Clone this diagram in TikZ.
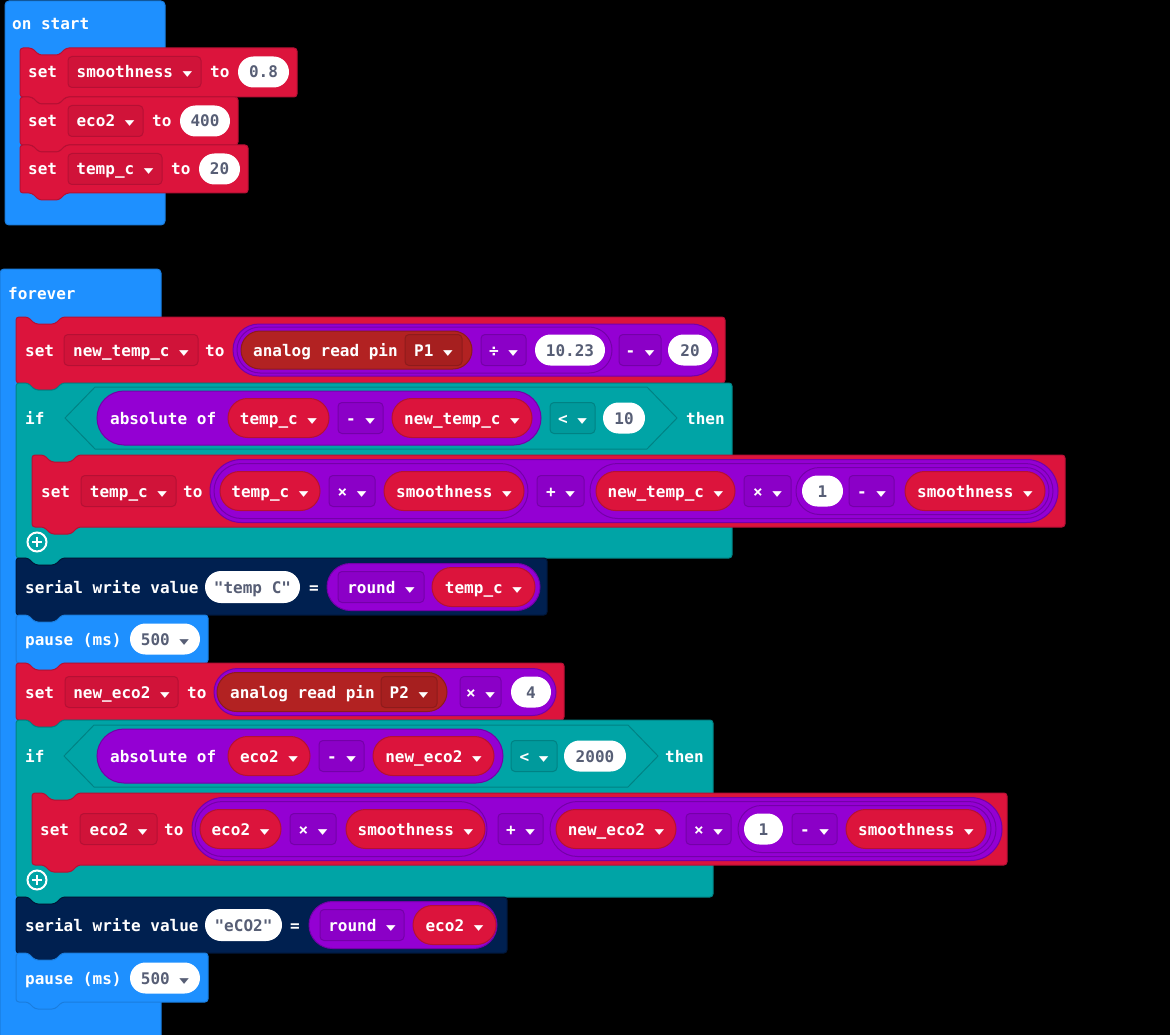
\documentclass[tikz,border=0pt]{standalone}
\usepackage{fontspec}
\setmonofont{DejaVu Sans Mono}
\newfontfamily\symfont{DejaVu Sans}
\usetikzlibrary{shapes.misc}
\definecolor{mcblue}{HTML}{1E90FF}
\definecolor{mcblueB}{HTML}{1A7DDE}
\definecolor{mcred}{HTML}{DC143C}
\definecolor{mcredB}{HTML}{B51034}
\definecolor{mcredF}{HTML}{D01339}
\definecolor{mcpin}{HTML}{B22222}
\definecolor{mcpinB}{HTML}{8E1B1B}
\definecolor{mcpinF}{HTML}{A61F1F}
\definecolor{mcpurple}{HTML}{9400D3}
\definecolor{mcpurpleB}{HTML}{7400A8}
\definecolor{mcpurpleF}{HTML}{8B00C7}
\definecolor{mcteal}{HTML}{00A4A6}
\definecolor{mctealB}{HTML}{008284}
\definecolor{mctealF}{HTML}{009A9C}
\definecolor{mcnavy}{HTML}{002050}
\definecolor{mcnavyB}{HTML}{001638}
\definecolor{mctext}{HTML}{575E75}
\newcommand\dd{~{\symfont\raisebox{1pt}{\scalebox{1.25}[0.75]{\fontsize{10}{10}\selectfont ▼}}}}
\newcommand\mcblock[5]{\filldraw[#1, rounded corners=3pt] (#2,#3) -- ({#2+12},#3) -- ({#2+19},{#3+7}) -- ({#2+39},{#3+7}) -- ({#2+46},#3) -- ({#2+#4},#3) -- ({#2+#4},{#3+#5}) -- ({#2+46},{#3+#5}) -- ({#2+39},{#3+#5+7}) -- ({#2+19},{#3+#5+7}) -- ({#2+12},{#3+#5}) -- (#2,{#3+#5}) -- cycle;}
\tikzset{
  blueblk/.style={fill=mcblue, draw=mcblueB, line width=1pt},
  redblk/.style={fill=mcred, draw=mcredB, line width=1pt},
  tealblk/.style={fill=mcteal, draw=mctealB, line width=1pt},
  navyblk/.style={fill=mcnavy, draw=mcnavyB, line width=1pt},
  hexa/.style={fill=mcteal, draw=mctealB, line width=1pt},
  lbl/.style={inner sep=0pt, text height=13pt, text depth=1pt, text=white, anchor=west},
  fld/.style={rectangle, rounded corners=4pt, inner sep=0pt, text height=13pt, text depth=1pt, text=white, minimum height=31pt, line width=1pt},
  redfld/.style={fld, fill=mcredF, draw=mcredB},
  purfld/.style={fld, fill=mcpurpleF, draw=mcpurpleB},
  tealfld/.style={fld, fill=mctealF, draw=mctealB},
  pinfld/.style={fld, fill=mcpinF, draw=mcpinB},
  pill/.style={rounded rectangle, inner sep=0pt, text height=13pt, text depth=1pt, line width=1pt},
  numpill/.style={pill, fill=white, text=mctext, minimum height=31pt},
  varpill/.style={pill, fill=mcred, draw=mcredB, text=white, minimum height=39pt},
  mathpill/.style={pill, fill=mcpurple, draw=mcpurpleB},
  pinpill/.style={pill, fill=mcpin, draw=mcpinB},
  plusicon/.style={circle, draw=white, line width=2pt, minimum size=19pt, inner sep=0pt}
}
\begin{document}
\begin{tikzpicture}[x=1pt, y=-1pt, font=\ttfamily\bfseries\fontsize{16}{19}\selectfont]
\useasboundingbox (0,0) rectangle (1170,1035);
\fill[black] (0,0) rectangle (1170,1035);
% on start
\filldraw[blueblk, rounded corners=4pt] (5,1) rectangle (165,225);
\node[lbl] (onstart) at (12,24) {on start};
\mcblock{redblk}{20}{48}{277}{49}
\node[lbl] (set1) at (28,72) {set};
\node[redfld, minimum width=133pt] (var1) at (134.5,72) {smoothness\dd};
\node[lbl] (to1) at (210,72) {to};
\node[numpill, minimum width=51pt] (num1) at (263.5,72) {0.8};
\mcblock{redblk}{20}{97}{218}{48}
\node[lbl] (set2) at (28,121) {set};
\node[redfld, minimum width=75pt] (var2) at (105.5,121) {eco2\dd};
\node[lbl] (to2) at (152,121) {to};
\node[numpill, minimum width=50pt] (num2) at (205,121) {400};
\mcblock{redblk}{20}{145}{228}{48}
\node[lbl] (set3) at (28,169) {set};
\node[redfld, minimum width=94pt] (var3) at (115,169) {temp\_c\dd};
\node[lbl] (to3) at (171,169) {to};
\node[numpill, minimum width=41pt] (num3) at (219.5,169) {20};
% forever
\filldraw[blueblk] (0,1036) [rounded corners=4pt] -- (0,269) -- (161,269) [sharp corners] -- (161,1036) -- cycle;
\node[lbl] (forever) at (8,293) {forever};
\mcblock{redblk}{16}{317}{709}{66}
\node[lbl] (setA) at (25,350) {set};
\node[redfld, minimum width=134pt] (varA) at (131,350) {new\_temp\_c\dd};
\node[lbl] (toA) at (205,350) {to};
\node[mathpill, minimum width=485pt, minimum height=52pt] (subA) at (475.5,350) {};
\node[mathpill, minimum width=375pt, minimum height=46pt] (divA) at (424.5,350) {};
\node[pinpill, minimum width=231pt, minimum height=38pt] (pinA) at (356.5,350) {};
\node[lbl] (readA) at (253,350) {analog read pin};
\node[pinfld, minimum width=57pt] (P1) at (433.5,350) {P1\dd};
\node[purfld, minimum width=45pt] (opdivA) at (503.5,350) {÷\dd};
\node[numpill, minimum width=70pt] (numA1) at (570,350) {10.23};
\node[purfld, minimum width=42pt] (opsubA) at (640,350) {-\dd};
\node[numpill, minimum width=44pt] (numA2) at (690,350) {20};
% if temp
\mcblock{tealblk}{16}{383}{716}{175}
\node[lbl] (ifB) at (25,418) {if};
\filldraw[hexa] (65,418) -- (95,387) -- (647,387) -- (677,418) -- (647,449) -- (95,449) -- cycle;
\node[mathpill, minimum width=444pt, minimum height=54pt] (absB) at (319,418) {};
\node[lbl] (absofB) at (110,418) {absolute of};
\node[varpill, minimum width=101pt] (tcB) at (278.5,418) {temp\_c\dd};
\node[purfld, minimum width=45pt] (opsubB) at (360.5,418) {-\dd};
\node[varpill, minimum width=140pt] (ntcB) at (462,418) {new\_temp\_c\dd};
\node[tealfld, minimum width=45pt] (ltB) at (572.5,418) {<\dd};
\node[numpill, minimum width=42pt] (numB) at (624,418) {10};
\node[lbl] (thenB) at (686,418) {then};
\mcblock{redblk}{32}{455}{1033}{72}
\node[lbl] (setC) at (41,491) {set};
\node[redfld, minimum width=95pt] (varC) at (128.5,491) {temp\_c\dd};
\node[lbl] (toC) at (183,491) {to};
\node[mathpill, minimum width=848pt, minimum height=63pt] (addC) at (634,491) {};
\node[mathpill, minimum width=314pt, minimum height=55pt] (mulC1) at (371,491) {};
\node[varpill, minimum width=100pt] (tcC) at (270,491) {temp\_c\dd};
\node[purfld, minimum width=46pt] (opmulC1) at (352,491) {×\dd};
\node[varpill, minimum width=140pt] (smC1) at (454,491) {smoothness\dd};
\node[purfld, minimum width=47pt] (opaddC) at (560.5,491) {+\dd};
\node[mathpill, minimum width=463pt, minimum height=55pt] (mulC2) at (821.5,491) {};
\node[varpill, minimum width=139pt] (ntcC) at (665.5,491) {new\_temp\_c\dd};
\node[purfld, minimum width=47pt] (opmulC2) at (767.5,491) {×\dd};
\node[mathpill, minimum width=253pt, minimum height=47pt] (subC) at (922.5,491) {};
\node[numpill, minimum width=41pt] (oneC) at (822.5,491) {1};
\node[purfld, minimum width=45pt] (opsubC) at (871.5,491) {-\dd};
\node[varpill, minimum width=140pt] (smC2) at (975,491) {smoothness\dd};
\node[plusicon] (plusB) at (37,542) {};
\draw[white, line width=2.5pt] (plusB.center) +(-5,0) -- +(5,0) (plusB.center) +(0,-5) -- +(0,5);
\mcblock{navyblk}{16}{558}{531}{57}
\node[lbl] (serD) at (25,587) {serial write value};
\node[numpill, minimum width=95pt, minimum height=32pt] (strD) at (252.5,587) {"temp C"};
\node[lbl] (eqD) at (309,587) {=};
\node[mathpill, minimum width=213pt, minimum height=47pt] (rndD) at (433.5,587) {};
\node[purfld, minimum width=86pt] (oprndD) at (381,587) {round\dd};
\node[varpill, minimum width=103pt] (tcD) at (483.5,587) {temp\_c\dd};
\mcblock{blueblk}{16}{615}{192}{48}
\node[lbl] (pauseE) at (25,639) {pause (ms)};
\node[numpill, minimum width=70pt] (msE) at (165,639) {500\dd};
% eco2
\mcblock{redblk}{16}{663}{548}{57}
\node[lbl] (setF) at (25,692) {set};
\node[redfld, minimum width=113pt] (varF) at (121.5,692) {new\_eco2\dd};
\node[lbl] (toF) at (187,692) {to};
\node[mathpill, minimum width=342pt, minimum height=47pt] (mulF) at (385,692) {};
\node[pinpill, minimum width=230pt, minimum height=39pt] (pinF) at (332,692) {};
\node[lbl] (readF) at (230,692) {analog read pin};
\node[pinfld, minimum width=56pt] (P2) at (409,692) {P2\dd};
\node[purfld, minimum width=41pt] (opmulF) at (480.5,692) {×\dd};
\node[numpill, minimum width=40pt] (numF) at (531,692) {4};
\mcblock{tealblk}{16}{720}{697}{177}
\node[lbl] (ifG) at (25,756) {if};
\filldraw[hexa] (64,756) -- (94,725) -- (628,725) -- (658,756) -- (628,787) -- (94,787) -- cycle;
\node[mathpill, minimum width=406pt, minimum height=54pt] (absG) at (300,756) {};
\node[lbl] (absofG) at (110,756) {absolute of};
\node[varpill, minimum width=82pt] (ecG) at (269,756) {eco2\dd};
\node[purfld, minimum width=45pt] (opsubG) at (341.5,756) {-\dd};
\node[varpill, minimum width=121pt] (necG) at (433.5,756) {new\_eco2\dd};
\node[tealfld, minimum width=46pt] (ltG) at (534,756) {<\dd};
\node[numpill, minimum width=62pt] (numG) at (595,756) {2000};
\node[lbl] (thenG) at (665,756) {then};
\mcblock{redblk}{32}{793}{975}{72}
\node[lbl] (setH) at (40,829) {set};
\node[redfld, minimum width=77pt] (varH) at (118.5,829) {eco2\dd};
\node[lbl] (toH) at (164,829) {to};
\node[mathpill, minimum width=810pt, minimum height=63pt] (addH) at (597,829) {};
\node[mathpill, minimum width=292pt, minimum height=55pt] (mulH1) at (341,829) {};
\node[varpill, minimum width=81pt] (ecH) at (240.5,829) {eco2\dd};
\node[purfld, minimum width=46pt] (opmulH1) at (313,829) {×\dd};
\node[varpill, minimum width=139pt] (smH1) at (415.5,829) {smoothness\dd};
\node[purfld, minimum width=45pt] (opaddH) at (520.5,829) {+\dd};
\node[mathpill, minimum width=446pt, minimum height=55pt] (mulH2) at (773,829) {};
\node[varpill, minimum width=120pt] (necH) at (616,829) {new\_eco2\dd};
\node[purfld, minimum width=45pt] (opmulH2) at (708.5,829) {×\dd};
\node[mathpill, minimum width=253pt, minimum height=47pt] (subH) at (864.5,829) {};
\node[numpill, minimum width=39pt] (oneH) at (763.5,829) {1};
\node[purfld, minimum width=45pt] (opsubH) at (814.5,829) {-\dd};
\node[varpill, minimum width=140pt] (smH2) at (916,829) {smoothness\dd};
\node[plusicon] (plusG) at (37,880) {};
\draw[white, line width=2.5pt] (plusG.center) +(-5,0) -- +(5,0) (plusG.center) +(0,-5) -- +(0,5);
\mcblock{navyblk}{16}{897}{491}{56}
\node[lbl] (serI) at (25,925) {serial write value};
\node[numpill, minimum width=77pt, minimum height=32pt] (strI) at (243.5,925) {"eCO2"};
\node[lbl] (eqI) at (290,925) {=};
\node[mathpill, minimum width=188pt, minimum height=47pt] (rndI) at (403,925) {};
\node[purfld, minimum width=84pt] (oprndI) at (362,925) {round\dd};
\node[varpill, minimum width=83pt] (ecI) at (454.5,925) {eco2\dd};
\mcblock{blueblk}{16}{953}{192}{49}
\node[lbl] (pauseJ) at (25,978) {pause (ms)};
\node[numpill, minimum width=70pt] (msJ) at (165,978) {500\dd};
\end{tikzpicture}
\end{document}
